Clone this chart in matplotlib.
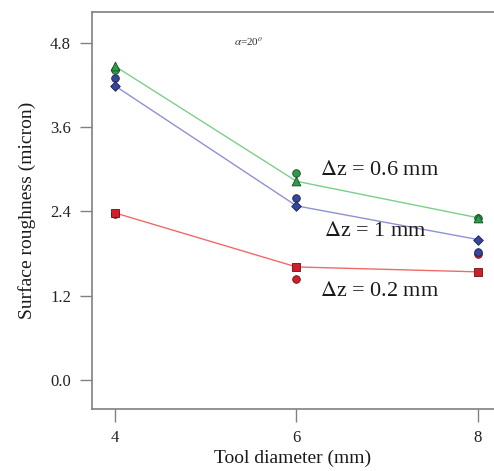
import numpy as np
import matplotlib.pyplot as plt

plt.rcParams['font.family'] = ['Liberation Serif', 'DejaVu Serif']
plt.rcParams['mathtext.fontset'] = 'stix'

diametro = [4, 6, 8]

# valores ajustados (linhas)
ajuste_06 = [4.47, 2.83, 2.31]
ajuste_1 = [4.19, 2.48, 2.00]
ajuste_02 = [2.38, 1.61, 1.54]

# valores experimentais (circulos)
exp_06 = [4.42, 2.95, 2.30]
exp_1 = [4.30, 2.59, 1.82]
exp_02 = [2.36, 1.44, 1.79]

fig = plt.figure(figsize=(4.94, 4.71), dpi=100)
ax = fig.add_axes([0.186, 0.1316, 0.814, 0.8429])

# linhas
ax.plot(diametro, ajuste_06, color='#7ccf86', lw=1.0, zorder=2)
ax.plot(diametro, ajuste_1, color='#8f92d2', lw=1.0, zorder=2)
ax.plot(diametro, ajuste_02, color='#f06a6a', lw=1.0, zorder=2)

# pontos experimentais
ax.scatter(diametro, exp_02, marker='o', s=30, color='#d01e2a', edgecolor='#6a1010', lw=0.6, zorder=3)
ax.scatter(diametro, exp_1, marker='o', s=30, color='#34479a', edgecolor='#1a2050', lw=0.6, zorder=3)
ax.scatter(diametro, exp_06, marker='o', s=30, color='#2f9a4a', edgecolor='#154d22', lw=0.6, zorder=3)

# pontos ajustados
ax.scatter(diametro, ajuste_02, marker='s', s=38, color='#d01e2a', edgecolor='#6a1010', lw=0.6, zorder=4)
ax.scatter(diametro, ajuste_1, marker='D', s=24, color='#34479a', edgecolor='#1a2050', lw=0.6, zorder=4)
ax.scatter(diametro, ajuste_06, marker='^', s=40, color='#2f9a4a', edgecolor='#154d22', lw=0.6, zorder=4)

ax.text(6.92, 2.98, r'$\Delta$z = 0.6 mm', fontsize=16, color='#1a1a1a', va='center', ha='center')
ax.text(6.87, 2.12, r'$\Delta$z = 1 mm', fontsize=16, color='#1a1a1a', va='center', ha='center')
ax.text(6.92, 1.26, r'$\Delta$z = 0.2 mm', fontsize=16, color='#1a1a1a', va='center', ha='center')
ax.text(5.47, 4.82, r'$\alpha$=20$^o$', fontsize=8, color='#333333', va='center', ha='center')

ax.set_xlim(3.747, 8.176)
ax.set_ylim(-0.413, 5.24)
ax.set_xticks([4, 6, 8])
ax.set_yticks([0.0, 1.2, 2.4, 3.6, 4.8])
ax.set_yticklabels(['0.0', '1.2', '2.4', '3.6', '4.8'])

ax.set_xlabel('Tool diameter (mm)', fontsize=14, color='#1a1a1a', labelpad=3)
ax.set_ylabel('Surface roughness (micron)', fontsize=14, color='#1a1a1a', labelpad=10)

for lado in ['left', 'bottom', 'top']:
    ax.spines[lado].set_color('#808080')
    ax.spines[lado].set_linewidth(1.2)
ax.spines['right'].set_visible(False)
ax.tick_params(axis='both', direction='out', length=9, width=1, color='#808080',
               labelsize=12, labelcolor='#222222', pad=6)

plt.savefig('out.png', dpi=100)
